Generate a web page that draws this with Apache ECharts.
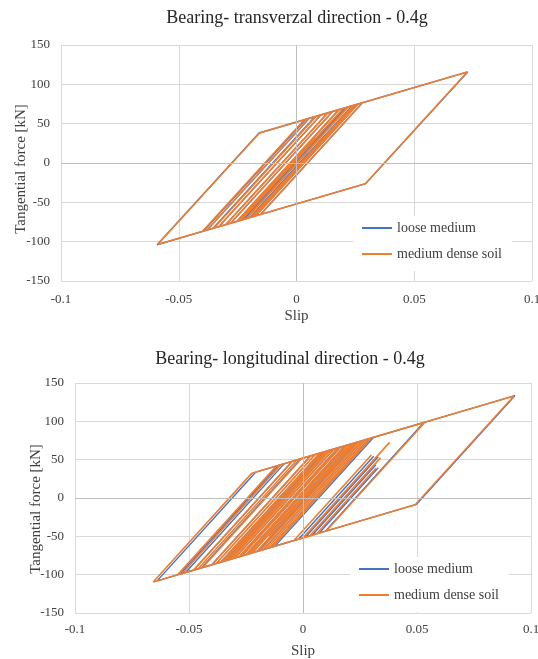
<!DOCTYPE html>
<html><head><meta charset="utf-8">
<script src="https://cdn.jsdelivr.net/npm/echarts@6/dist/echarts.min.js"></script>
<style>html,body{margin:0;padding:0;background:#fff}#c{width:538px;height:659px}</style>
</head><body><div id="c"></div>
<script>
const chartTitles = ['Bearing- transverzal direction - 0.4g', 'Bearing- longitudinal direction - 0.4g'];
const seriesNames = ['loose medium', 'medium dense soil'];
const xAxisName = 'Slip';
const yAxisName = 'Tangential force [kN]';

// Transversal direction: [slip, tangential force]
const transLoose = [[0,0],[0.015,49.2],[-0.02,-65.6],[0.0216,70.9],[0.025,73.9],[-0.0183,-68.0],[-0.0355,-83.1],[0.0078,58.8],[0.02,69.5],[-0.0233,-72.4],[-0.03,-78.3],[0.0133,63.7],[0.028,76.6],[-0.0153,-65.4],[-0.0592,-103.9],[-0.0159,38.1],[0.0727,115.8],[0.0294,-26.2],[-0.0395,-86.6],[0.0038,55.3],[0.026,74.8],[-0.0173,-67.2],[-0.033,-80.9],[0.0103,61.0],[0.021,70.4],[-0.0223,-71.6],[-0.038,-85.3],[0.0053,56.6],[0.018,67.8],[-0.0253,-74.2],[-0.028,-76.6],[0.0153,65.4],[0.0235,72.6],[-0.012,-43.8],[0.012,34.9],[-0.0198,-69.4],[-0.02,-69.5],[0.005,12.5]];
const transDense = [[0,0],[0.015,49.2],[-0.02,-65.6],[0.0216,70.9],[0.025,73.9],[-0.0183,-68.0],[-0.035,-82.7],[0.0083,59.3],[0.02,69.5],[-0.0233,-72.4],[-0.03,-78.3],[0.0133,63.7],[0.028,76.6],[-0.0153,-65.4],[-0.059,-103.7],[-0.0157,38.2],[0.0725,115.6],[0.0292,-26.4],[-0.04,-87.1],[0.0033,54.9],[0.026,74.8],[-0.0173,-67.2],[-0.033,-80.9],[0.0103,61.0],[0.022,71.3],[-0.0213,-70.7],[-0.038,-85.3],[0.0053,56.6],[0.018,67.8],[-0.0253,-74.2],[-0.028,-76.6],[0.0153,65.4],[0.024,73.0],[-0.015,-54.9],[0.012,33.7],[-0.0193,-68.9],[-0.025,-73.9],[0.016,60.6],[-0.022,-64.0],[0.0182,68.0],[0.019,68.7],[-0.018,-52.7],[0.008,32.6],[-0.0243,-73.3],[-0.03,-78.3],[0.005,36.5],[-0.012,-19.3],[0.01,52.9],[-0.008,-6.1],[0.003,30],[-0.005,3.8]];

// Longitudinal direction: [slip, tangential force]
const longLoose = [[0,0],[0.013,42.6],[-0.014,-46],[0.0217,71.0],[0.031,79.2],[-0.0123,-62.8],[-0.034,-81.8],[0.0093,60.2],[0.093,133.6],[0.0497,-8.4],[-0.064,-108.1],[-0.0207,33.8],[0.053,98.5],[0.0097,-43.5],[0.007,-45.9],[0.033,39.4],[0.007,-45.9],[0.004,-48.5],[0.032,43.3],[0.004,-48.5],[0.001,-51.1],[0.033,53.9],[0.001,-51.1],[-0.002,-53.8],[0.031,54.4],[-0.002,-53.8],[-0.054,-99.4],[-0.0107,42.6],[0.029,77.4],[-0.0143,-64.5],[-0.048,-94.1],[-0.0047,47.9],[0.011,61.6],[-0.0323,-80.3],[-0.036,-83.6],[0.0073,58.4],[0.026,74.8],[-0.0173,-67.2],[-0.0445,-91.0],[-0.0012,50.9],[0.0135,63.8],[-0.0298,-78.1],[-0.032,-80.1],[0.0113,61.9],[0.0235,72.6],[-0.0198,-69.4],[-0.04,-87.1],[0.0033,54.9],[0.0165,66.5],[-0.0268,-75.5],[-0.028,-76.6],[0.0153,65.4],[0.0195,69.1],[-0.0238,-72.9],[-0.025,-73.9],[0.0183,68.0],[0.021,70.4],[-0.0223,-71.6],[-0.0515,-97.2],[-0.0082,44.8],[0.008,59.0],[-0.016,-19.7],[0.004,45.9]];
const longDense = [[0,0],[0.012,39.4],[-0.015,-49.2],[0.0216,70.9],[0.03,78.3],[-0.0133,-63.7],[-0.035,-82.7],[0.0083,59.3],[0.0925,133.1],[0.0492,-8.9],[-0.0657,-109.6],[-0.0224,32.4],[0.0535,98.9],[0.0102,-43.1],[0.006,-46.7],[0.032,38.6],[0.006,-46.7],[0.003,-49.4],[0.034,52.3],[0.003,-49.4],[0,-52.0],[0.038,72.6],[0,-52.0],[-0.004,-55.5],[0.03,56.0],[-0.004,-55.5],[-0.055,-100.2],[-0.0117,41.7],[0.029,77.4],[-0.0143,-64.5],[-0.048,-94.1],[-0.0047,47.9],[0.0105,61.2],[-0.0328,-80.8],[-0.036,-83.6],[0.0073,58.4],[0.026,74.8],[-0.0173,-67.2],[-0.044,-90.6],[-0.0007,51.4],[0.0135,63.8],[-0.0298,-78.1],[-0.032,-80.1],[0.0113,61.9],[0.023,72.2],[-0.0203,-69.8],[-0.04,-87.1],[0.0033,54.9],[0.0165,66.5],[-0.0268,-75.5],[-0.028,-76.6],[0.0153,65.4],[0.0195,69.1],[-0.0238,-72.9],[-0.025,-73.9],[0.0183,68.0],[0.021,70.4],[-0.0223,-71.6],[-0.046,-92.3],[-0.0027,49.6],[0.0275,76.1],[-0.0158,-65.9],[-0.038,-85.3],[0.0053,56.6],[0.012,62.5],[-0.0313,-79.5],[-0.0335,-81.4],[0.0098,60.6],[0.0245,73.5],[-0.0188,-68.5],[-0.053,-98.5],[-0.0097,43.5],[0.0075,58.6],[-0.02,-31.6],[0,34],[-0.01,1.2]];

const FONT = 'Liberation Serif';
const BLUE = '#4472C4', ORANGE = '#ED7D31';

function xAx(i, gap, margin) {
  return {
    type: 'value', gridIndex: i, min: -0.1, max: 0.1, interval: 0.05,
    name: xAxisName, nameLocation: 'middle', nameGap: gap, nameMoveOverlap: false,
    nameTextStyle: {fontFamily: FONT, fontSize: 15, color: '#404040'},
    axisLine: {show: false}, axisTick: {show: false},
    axisLabel: {fontFamily: FONT, fontSize: 13, color: '#404040', margin: margin},
    splitLine: {show: true, lineStyle: {color: '#D9D9D9', width: 1}}
  };
}
function yAx(i, gap, shift) {
  return {
    type: 'value', gridIndex: i, min: -150, max: 150, interval: 50,
    name: yAxisName, nameLocation: 'middle', nameGap: gap, nameMoveOverlap: false,
    nameTextStyle: {fontFamily: FONT, fontSize: 15, color: '#404040', padding: [0, shift, 0, 0]},
    axisLine: {show: false}, axisTick: {show: false},
    axisLabel: {fontFamily: FONT, fontSize: 13, color: '#404040', margin: 11},
    splitLine: {show: true, lineStyle: {color: '#D9D9D9', width: 1}}
  };
}
function zeroLines(i) {
  return {
    type: 'line', xAxisIndex: i, yAxisIndex: i, data: [], silent: true,
    markLine: {silent: true, symbol: 'none', label: {show: false},
      lineStyle: {color: '#BFBFBF', type: 'solid', width: 1},
      data: [{xAxis: 0}, {yAxis: 0}]}
  };
}
function ser(i, name, data, color, w) {
  return {
    type: 'line', name: name, xAxisIndex: i, yAxisIndex: i, data: data,
    symbol: 'none', showSymbol: false, smooth: false,
    lineStyle: {color: color, width: w}, itemStyle: {color: color}
  };
}
function leg(left, top) {
  return {
    data: seriesNames, orient: 'vertical', left: left, top: top,
    backgroundColor: '#ffffff', padding: [5, 10, 10, 9], itemGap: 12,
    icon: 'rect', itemWidth: 30, itemHeight: 2,
    textStyle: {fontFamily: FONT, fontSize: 14, color: '#404040', lineHeight: 14}
  };
}

const chart = echarts.init(document.getElementById('c'), null, {renderer: 'canvas'});
chart.setOption({
  animation: false,
  backgroundColor: '#ffffff',
  title: [
    {text: chartTitles[0], left: 297, top: 9, textAlign: 'center', padding: 0,
     textStyle: {fontFamily: FONT, fontSize: 18, fontWeight: 'normal', color: '#262626'}},
    {text: chartTitles[1], left: 290, top: 350, textAlign: 'center', padding: 0,
     textStyle: {fontFamily: FONT, fontSize: 18, fontWeight: 'normal', color: '#262626'}}
  ],
  grid: [
    {left: 61, right: 6, top: 45, height: 236, containLabel: false, outerBoundsMode: 'none'},
    {left: 75, right: 7, top: 383, height: 230, containLabel: false, outerBoundsMode: 'none'}
  ],
  xAxis: [xAx(0, 28, 12), xAx(1, 31, 10)],
  yAxis: [yAx(0, 32, 12), yAx(1, 31, 22)],
  legend: [leg(353, 216), leg(350, 557)],
  series: [
    zeroLines(0), zeroLines(1),
    ser(0, seriesNames[0], transLoose, BLUE, 1.4),
    ser(0, seriesNames[1], transDense, ORANGE, 1.6),
    ser(1, seriesNames[0], longLoose, BLUE, 1.4),
    ser(1, seriesNames[1], longDense, ORANGE, 1.6)
  ]
});
</script>
</body></html>
